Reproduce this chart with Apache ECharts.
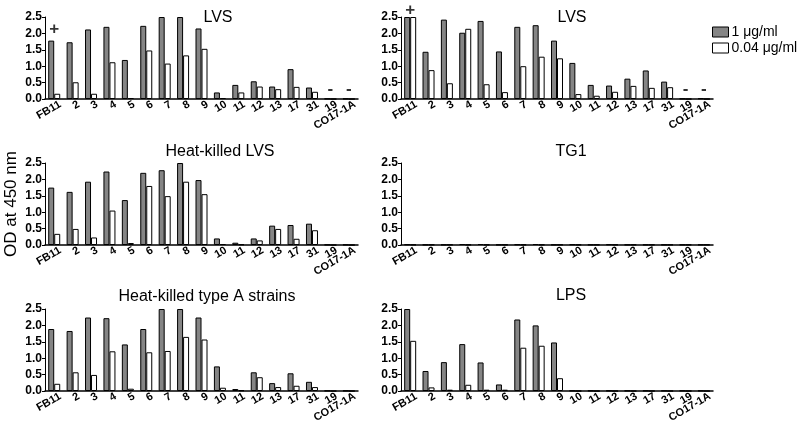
<!DOCTYPE html>
<html><head><meta charset="utf-8">
<script src="https://cdn.jsdelivr.net/npm/echarts@6/dist/echarts.min.js"></script>
<style>html,body{margin:0;padding:0;background:#fff}#c{width:800px;height:434px}</style>
</head><body><div id="c"></div>
<script>
const categories = ['FB11','2','3','4','5','6','7','8','9','10','11','12','13','17','31','19','CO17-1A'];
const yTicks = [0, 0.5, 1.0, 1.5, 2.0, 2.5];
const seriesNames = ['1 \u03bcg/ml', '0.04 \u03bcg/ml'];
const panelTitles = ['LVS', 'LVS', 'Heat-killed LVS', 'TG1', 'Heat-killed type A strains', 'LPS'];

// panel 1: LVS (left)
const lvsA_high = [1.78,1.73,2.12,2.20,1.19,2.23,2.50,2.50,2.15,0.20,0.43,0.54,0.38,0.91,0.35,0.01,0.01];
const lvsA_low  = [0.16,0.51,0.16,1.12,0.03,1.48,1.08,1.33,1.53,0.03,0.20,0.38,0.30,0.37,0.22,0.00,0.00];
// panel 2: LVS (right)
const lvsB_high = [2.50,1.44,2.42,2.02,2.38,1.45,2.20,2.25,1.78,1.10,0.43,0.41,0.62,0.87,0.53,0.01,0.02];
const lvsB_low  = [2.50,0.88,0.48,2.14,0.45,0.21,1.00,1.29,1.24,0.15,0.10,0.22,0.40,0.34,0.36,0.00,0.00];
// panel 3: Heat-killed LVS
const hkLvs_high = [1.75,1.62,1.93,2.24,1.37,2.20,2.28,2.50,1.98,0.20,0.07,0.20,0.59,0.61,0.65,0.01,0.01];
const hkLvs_low  = [0.34,0.49,0.23,1.05,0.06,1.80,1.49,1.93,1.55,0.03,0.02,0.14,0.49,0.19,0.45,0.00,0.00];
// panel 4: TG1
const tg1_high = [0.02,0.01,0.01,0.03,0.03,0.01,0.02,0.03,0.01,0.02,0.01,0.02,0.01,0.01,0.01,0.01,0.01];
const tg1_low  = [0.01,0.01,0.01,0.01,0.01,0.01,0.01,0.01,0.01,0.01,0.01,0.01,0.01,0.01,0.01,0.01,0.01];
// panel 5: Heat-killed type A strains
const hkA_high = [1.89,1.83,2.24,2.22,1.42,1.89,2.50,2.50,2.24,0.75,0.06,0.57,0.24,0.54,0.28,0.01,0.01];
const hkA_low  = [0.22,0.57,0.49,1.21,0.07,1.18,1.22,1.65,1.57,0.10,0.02,0.42,0.12,0.16,0.12,0.00,0.00];
// panel 6: LPS
const lps_high = [2.50,0.61,0.88,1.43,0.87,0.20,2.18,2.00,1.48,0.01,0.01,0.01,0.01,0.01,0.01,0.01,0.01];
const lps_low  = [1.53,0.11,0.04,0.19,0.04,0.04,1.32,1.38,0.39,0.00,0.00,0.00,0.00,0.00,0.00,0.00,0.00];

// annotations: [category, value, text]
const annotA = [['FB11', 2.13, '+'], ['19', 0.30, '-'], ['CO17-1A', 0.30, '-']];
const annotB = [['FB11', 2.71, '+'], ['19', 0.30, '-'], ['CO17-1A', 0.30, '-']];

const panels = [
  {title: panelTitles[0], high: lvsA_high, low: lvsA_low, annot: annotA},
  {title: panelTitles[1], high: lvsB_high, low: lvsB_low, annot: annotB},
  {title: panelTitles[2], high: hkLvs_high, low: hkLvs_low, annot: null},
  {title: panelTitles[3], high: tg1_high, low: tg1_low, annot: null},
  {title: panelTitles[4], high: hkA_high, low: hkA_low, annot: null},
  {title: panelTitles[5], high: lps_high, low: lps_low, annot: null}
];

const FONT = "'Liberation Sans', Arial, Helvetica, sans-serif";
const gridLefts = [45, 401];
const gridWidths = [313, 312];
const gridTops = [17, 163, 309];
const GH = 82;
const titlePos = [[218, 18], [572, 18], [220, 152], [571, 152], [207, 297], [571, 296]];

const grid = [], xAxis = [], yAxis = [], series = [], graphic = [];
panels.forEach((p, i) => {
  const col = i % 2, row = Math.floor(i / 2);
  grid.push({left: gridLefts[col], top: gridTops[row], width: gridWidths[col], height: GH, containLabel: false});
  xAxis.push({
    type: 'category', gridIndex: i, data: categories,
    axisLine: {lineStyle: {color: '#000', width: 1.5}},
    axisTick: {show: false},
    axisLabel: {interval: 0, rotate: 30, margin: 8, color: '#000', fontWeight: 'bold', fontSize: 11, fontFamily: FONT,
      padding: [0, -7, 0, 0]}
  });
  yAxis.push({
    type: 'value', gridIndex: i, min: 0, max: 2.5, interval: 0.5,
    axisLine: {show: true, lineStyle: {color: '#000', width: 1}},
    axisTick: {show: true, length: 3, lineStyle: {color: '#000'}},
    splitLine: {show: false},
    axisLabel: {margin: 3, color: '#000', fontWeight: 'bold', fontSize: 12, fontFamily: FONT,
      formatter: v => v.toFixed(1)},
    name: i === 2 ? 'OD at 450 nm' : '',
    nameLocation: 'middle', nameGap: 25, nameRotate: 90,
    nameTextStyle: {fontSize: 17, color: '#000', fontFamily: FONT}
  });
  series.push({
    name: seriesNames[0], type: 'bar', xAxisIndex: i, yAxisIndex: i, data: p.high,
    barWidth: 6, barGap: '0%',
    itemStyle: {color: '#858585', borderColor: '#000', borderWidth: 1}
  });
  series.push({
    name: seriesNames[1], type: 'bar', xAxisIndex: i, yAxisIndex: i, data: p.low,
    barWidth: 6, barGap: '0%',
    itemStyle: {color: '#fff', borderColor: '#000', borderWidth: 1}
  });
  if (p.annot) {
    series.push({
      name: 'annot' + i, type: 'scatter', xAxisIndex: i, yAxisIndex: i, clip: false,
      symbolSize: 0, data: p.annot.map(a => ({value: [a[0], a[1]], txt: a[2]})),
      label: {show: true, position: 'inside', color: '#000', fontSize: 17, fontWeight: 'bold', fontFamily: FONT,
        formatter: prm => prm.data.txt},
      silent: true
    });
  }
  graphic.push({
    type: 'text', x: titlePos[i][0], y: titlePos[i][1],
    style: {text: p.title, textAlign: 'center', textVerticalAlign: 'middle', fill: '#000',
      font: '16px ' + FONT}
  });
});

const chart = echarts.init(document.getElementById('c'), null, {renderer: 'canvas'});
chart.setOption({
  animation: false,
  backgroundColor: '#fff',
  graphic: graphic,
  legend: {
    orient: 'vertical', left: 712, top: 25, padding: 0, itemGap: 2,
    itemWidth: 16, itemHeight: 10,
    data: [
      {name: seriesNames[0], icon: 'rect', itemStyle: {color: '#858585', borderColor: '#000', borderWidth: 1}},
      {name: seriesNames[1], icon: 'rect', itemStyle: {color: '#fff', borderColor: '#000', borderWidth: 1}}
    ],
    textStyle: {fontSize: 14, color: '#000', fontFamily: FONT, padding: [0, 0, 0, -2]}
  },
  grid, xAxis, yAxis, series
});
</script></body></html>
